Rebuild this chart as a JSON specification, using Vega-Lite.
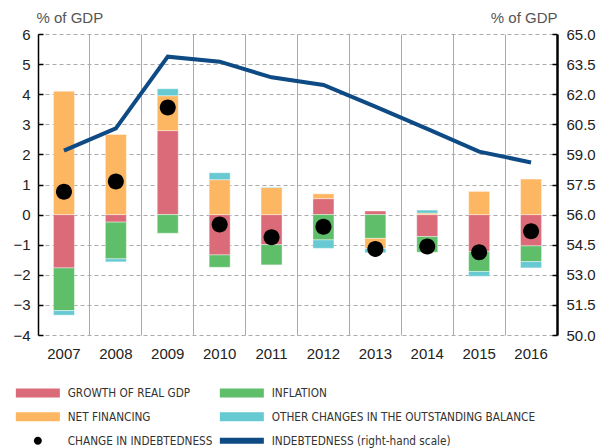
{
  "$schema": "https://vega.github.io/schema/vega-lite/v6.json",
  "autosize": "none",
  "width": 519,
  "height": 301,
  "padding": {"left": 38, "top": 34, "right": 49, "bottom": 113},
  "background": "white",
  "config": {
    "view": {"stroke": null},
    "font": "Liberation Sans",
    "axis": {"labelFont": "Liberation Sans", "labelFontSize": 15, "labelColor": "#222", "titleFont": "Liberation Sans", "titleFontWeight": "normal", "titleFontSize": 15, "titleColor": "#555", "labelOverlap": false}
  },
  "datasets": {
    "bars": [
      {"year": "2007", "series": "GROWTH OF REAL GDP", "o": 1, "value": -1.77},
      {"year": "2007", "series": "INFLATION", "o": 2, "value": -1.42},
      {"year": "2007", "series": "NET FINANCING", "o": 3, "value": 4.10},
      {"year": "2007", "series": "OTHER CHANGES IN THE OUTSTANDING BALANCE", "o": 4, "value": -0.15},
      {"year": "2008", "series": "GROWTH OF REAL GDP", "o": 1, "value": -0.25},
      {"year": "2008", "series": "INFLATION", "o": 2, "value": -1.22},
      {"year": "2008", "series": "NET FINANCING", "o": 3, "value": 2.66},
      {"year": "2008", "series": "OTHER CHANGES IN THE OUTSTANDING BALANCE", "o": 4, "value": -0.10},
      {"year": "2009", "series": "GROWTH OF REAL GDP", "o": 1, "value": 2.79},
      {"year": "2009", "series": "INFLATION", "o": 2, "value": -0.62},
      {"year": "2009", "series": "NET FINANCING", "o": 3, "value": 1.16},
      {"year": "2009", "series": "OTHER CHANGES IN THE OUTSTANDING BALANCE", "o": 4, "value": 0.23},
      {"year": "2010", "series": "GROWTH OF REAL GDP", "o": 1, "value": -1.34},
      {"year": "2010", "series": "INFLATION", "o": 2, "value": -0.41},
      {"year": "2010", "series": "NET FINANCING", "o": 3, "value": 1.16},
      {"year": "2010", "series": "OTHER CHANGES IN THE OUTSTANDING BALANCE", "o": 4, "value": 0.23},
      {"year": "2011", "series": "GROWTH OF REAL GDP", "o": 1, "value": -1.00},
      {"year": "2011", "series": "INFLATION", "o": 2, "value": -0.67},
      {"year": "2011", "series": "NET FINANCING", "o": 3, "value": 0.90},
      {"year": "2011", "series": "OTHER CHANGES IN THE OUTSTANDING BALANCE", "o": 4, "value": 0.02},
      {"year": "2012", "series": "GROWTH OF REAL GDP", "o": 1, "value": 0.53},
      {"year": "2012", "series": "INFLATION", "o": 2, "value": -0.84},
      {"year": "2012", "series": "NET FINANCING", "o": 3, "value": 0.16},
      {"year": "2012", "series": "OTHER CHANGES IN THE OUTSTANDING BALANCE", "o": 4, "value": -0.28},
      {"year": "2013", "series": "GROWTH OF REAL GDP", "o": 1, "value": 0.12},
      {"year": "2013", "series": "INFLATION", "o": 2, "value": -0.79},
      {"year": "2013", "series": "NET FINANCING", "o": 3, "value": -0.34},
      {"year": "2013", "series": "OTHER CHANGES IN THE OUTSTANDING BALANCE", "o": 4, "value": -0.14},
      {"year": "2014", "series": "GROWTH OF REAL GDP", "o": 1, "value": -0.73},
      {"year": "2014", "series": "INFLATION", "o": 2, "value": -0.52},
      {"year": "2014", "series": "NET FINANCING", "o": 3, "value": 0.05},
      {"year": "2014", "series": "OTHER CHANGES IN THE OUTSTANDING BALANCE", "o": 4, "value": 0.10},
      {"year": "2015", "series": "GROWTH OF REAL GDP", "o": 1, "value": -1.23},
      {"year": "2015", "series": "INFLATION", "o": 2, "value": -0.66},
      {"year": "2015", "series": "NET FINANCING", "o": 3, "value": 0.77},
      {"year": "2015", "series": "OTHER CHANGES IN THE OUTSTANDING BALANCE", "o": 4, "value": -0.16},
      {"year": "2016", "series": "GROWTH OF REAL GDP", "o": 1, "value": -1.04},
      {"year": "2016", "series": "INFLATION", "o": 2, "value": -0.52},
      {"year": "2016", "series": "NET FINANCING", "o": 3, "value": 1.18},
      {"year": "2016", "series": "OTHER CHANGES IN THE OUTSTANDING BALANCE", "o": 4, "value": -0.21}
    ],
    "change": [
      {"year": "2007", "series": "CHANGE IN INDEBTEDNESS", "value": 0.76},
      {"year": "2008", "series": "CHANGE IN INDEBTEDNESS", "value": 1.10},
      {"year": "2009", "series": "CHANGE IN INDEBTEDNESS", "value": 3.56},
      {"year": "2010", "series": "CHANGE IN INDEBTEDNESS", "value": -0.33},
      {"year": "2011", "series": "CHANGE IN INDEBTEDNESS", "value": -0.75},
      {"year": "2012", "series": "CHANGE IN INDEBTEDNESS", "value": -0.40},
      {"year": "2013", "series": "CHANGE IN INDEBTEDNESS", "value": -1.14},
      {"year": "2014", "series": "CHANGE IN INDEBTEDNESS", "value": -1.06},
      {"year": "2015", "series": "CHANGE IN INDEBTEDNESS", "value": -1.25},
      {"year": "2016", "series": "CHANGE IN INDEBTEDNESS", "value": -0.55}
    ],
    "debt": [
      {"year": "2007", "series": "INDEBTEDNESS (right-hand scale)", "value": 59.19},
      {"year": "2008", "series": "INDEBTEDNESS (right-hand scale)", "value": 60.30},
      {"year": "2009", "series": "INDEBTEDNESS (right-hand scale)", "value": 63.87},
      {"year": "2010", "series": "INDEBTEDNESS (right-hand scale)", "value": 63.62},
      {"year": "2011", "series": "INDEBTEDNESS (right-hand scale)", "value": 62.84},
      {"year": "2012", "series": "INDEBTEDNESS (right-hand scale)", "value": 62.46},
      {"year": "2013", "series": "INDEBTEDNESS (right-hand scale)", "value": 61.38},
      {"year": "2014", "series": "INDEBTEDNESS (right-hand scale)", "value": 60.27},
      {"year": "2015", "series": "INDEBTEDNESS (right-hand scale)", "value": 59.14},
      {"year": "2016", "series": "INDEBTEDNESS (right-hand scale)", "value": 58.60}
    ]
  },
  "encoding": {
    "x": {
      "field": "year", "type": "nominal",
      "scale": {"paddingInner": 0, "paddingOuter": 0},
      "axis": {"title": null, "labelAngle": 0, "domain": false, "ticks": false, "labelPadding": 11, "grid": true, "bandPosition": 0, "gridColor": "#aaa", "gridWidth": 1, "labelFontSize": 15}
    }
  },
  "layer": [
    {
      "layer": [
        {
          "data": {"name": "bars"},
          "mark": {"type": "bar", "size": 21, "stroke": "white", "strokeWidth": 0.4},
          "encoding": {
            "y": {
              "field": "value", "type": "quantitative", "stack": "zero",
              "scale": {"domain": [-4, 6], "nice": false},
              "axis": {"title": "% of GDP", "titleAngle": 0, "titleAlign": "left", "titleBaseline": "middle", "titleX": -2, "titleY": -17, "tickCount": 10, "tickMinStep": 1, "labelOverlap": false, "labelSeparation": 0, "domainColor": "black", "domainWidth": 1.5, "tickColor": "black", "tickSize": -5, "tickWidth": 1.5, "labelPadding": 13, "gridColor": "#aaa", "gridDash": [4, 3], "gridWidth": 1}
            },
            "color": {
              "field": "series", "type": "nominal",
              "scale": {
                "domain": ["GROWTH OF REAL GDP", "INFLATION", "NET FINANCING", "OTHER CHANGES IN THE OUTSTANDING BALANCE", "CHANGE IN INDEBTEDNESS", "INDEBTEDNESS (right-hand scale)"],
                "range": ["#DB6B79", "#5FBE69", "#FDB762", "#67C9D1", "#000000", "#0E4B84"]
              },
              "legend": {
                "title": null, "orient": "none", "direction": "horizontal", "legendX": -6, "legendY": 353, "columns": 2, "columnPadding": 6, "rowPadding": 11,
                "symbolSize": 100, "symbolStrokeWidth": 0, "labelFont": "DejaVu Sans Condensed", "labelFontSize": 11.7, "labelColor": "#333", "labelOffset": 24, "labelLimit": 400
              }
            },
            "order": {"field": "o", "type": "quantitative"}
          }
        },
        {
          "mark": {"type": "rule", "color": "black", "strokeWidth": 2},
          "encoding": {"y": {"datum": 0, "type": "quantitative"}}
        },
        {
          "data": {"name": "change"},
          "mark": {"type": "point", "filled": true, "opacity": 1, "size": 400},
          "encoding": {
            "y": {"field": "value", "type": "quantitative"},
            "color": {"field": "series", "type": "nominal"},
            "shape": {
              "field": "series", "type": "nominal",
              "scale": {
                "domain": ["GROWTH OF REAL GDP", "INFLATION", "NET FINANCING", "OTHER CHANGES IN THE OUTSTANDING BALANCE", "CHANGE IN INDEBTEDNESS", "INDEBTEDNESS (right-hand scale)"],
                "range": ["M-4.4,-0.9H4.4V0.9H-4.4Z", "M-4.4,-0.9H4.4V0.9H-4.4Z", "M-4.4,-0.9H4.4V0.9H-4.4Z", "M-4.4,-0.9H4.4V0.9H-4.4Z", "M-0.8,0A0.8,0.8 0 1,0 0.8,0A0.8,0.8 0 1,0 -0.8,0Z", "M-4.4,-0.6H4.4V0.6H-4.4Z"]
              }
            }
          }
        }
      ]
    },
    {
      "data": {"name": "debt"},
      "mark": {"type": "line", "strokeWidth": 4},
      "encoding": {
        "y": {
          "field": "value", "type": "quantitative",
          "scale": {"domain": [50, 65], "nice": false, "zero": false},
          "axis": {"orient": "right", "title": "% of GDP", "titleAngle": 0, "titleAlign": "right", "titleBaseline": "middle", "titleX": 0, "titleY": -17, "values": [50, 51.5, 53, 54.5, 56, 57.5, 59, 60.5, 62, 63.5, 65], "format": ".1f", "grid": false, "domainColor": "black", "domainWidth": 2.5, "tickColor": "black", "tickSize": -5, "tickWidth": 1.5, "labelPadding": 14}
        },
        "color": {"field": "series", "type": "nominal"}
      }
    }
  ],
  "resolve": {"scale": {"y": "independent"}}
}
